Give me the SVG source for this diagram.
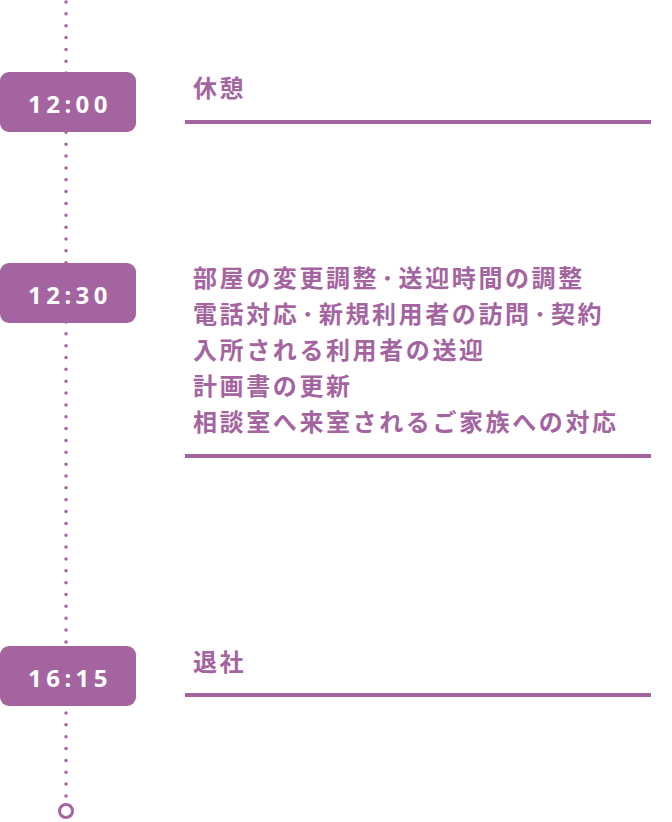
<svg xmlns="http://www.w3.org/2000/svg" width="672" height="822" viewBox="0 0 672 822">
<style>
.badge{fill:#a4649f}
.time{fill:#fff;font-family:"Noto Sans","DejaVu Sans",sans-serif;font-weight:700;font-size:24px;letter-spacing:4.5px;text-anchor:middle}
.jp{fill:#a4649f;font-family:"Noto Sans CJK JP","Noto Sans",sans-serif;font-weight:700;font-size:24px;letter-spacing:2.6px}
.dot{letter-spacing:5px}
.rule{stroke:#a4649f;stroke-width:4;fill:none}
</style>
<g id="connectors">
<line x1="66" y1="2" x2="66" y2="796" stroke="#a4649f" stroke-width="3.5" stroke-linecap="round" stroke-dasharray="0 11.85"/>
<circle cx="66" cy="811" r="6.5" fill="#fff" stroke="#a4649f" stroke-width="3"/>
</g>
<g id="node-1200">
<rect class="badge" x="0" y="72" width="136" height="60" rx="9"/>
<text class="time" x="70" y="113">12:00</text>
<text class="jp" x="193" y="97">休憩</text>
<line class="rule" x1="185" y1="122" x2="651" y2="122"/>
</g>
<g id="node-1230">
<rect class="badge" x="0" y="263" width="136" height="60" rx="9"/>
<text class="time" x="70" y="304">12:30</text>
<text class="jp" x="193" y="287">部屋の変更調整<tspan class="dot" dx="2.4">･</tspan>送迎時間の調整</text>
<text class="jp" x="193" y="323">電話対応<tspan class="dot" dx="2.4">･</tspan>新規利用者の訪問<tspan class="dot" dx="2.4">･</tspan>契約</text>
<text class="jp" x="193" y="359">入所される利用者の送迎</text>
<text class="jp" x="193" y="395">計画書の更新</text>
<text class="jp" x="193" y="431">相談室へ来室されるご家族への対応</text>
<line class="rule" x1="185" y1="456" x2="651" y2="456"/>
</g>
<g id="node-1615">
<rect class="badge" x="0" y="646" width="136" height="60" rx="9"/>
<text class="time" x="70" y="687">16:15</text>
<text class="jp" x="193" y="671">退社</text>
<line class="rule" x1="185" y1="695" x2="651" y2="695"/>
</g>
</svg>
